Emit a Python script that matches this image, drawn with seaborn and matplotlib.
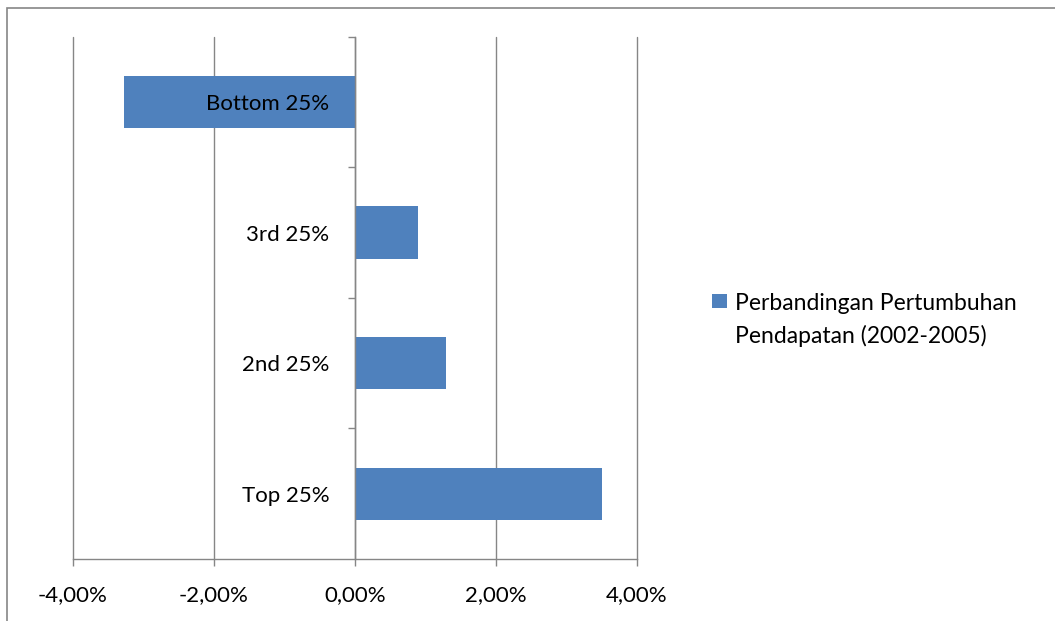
import matplotlib
matplotlib.use('Agg')
import matplotlib.pyplot as plt
import seaborn as sns
import pandas as pd
from matplotlib.ticker import FuncFormatter, FixedLocator
from matplotlib.patches import Rectangle

categories = ["Bottom 25%", "3rd 25%", "2nd 25%", "Top 25%"]
growth = [-3.28, 0.89, 1.29, 3.50]
series_name = "Perbandingan Pertumbuhan\nPendapatan (2002-2005)"
x_ticks = [-4, -2, 0, 2, 4]

sns.set_theme(style='white')
plt.rcParams['font.family'] = ['Lato', 'DejaVu Sans']

GRAY = '#868686'
BLUE = '#4F81BD'
FS = 16

W, H = 1055, 621
fig = plt.figure(figsize=(W / 100, H / 100), dpi=100)
ax = fig.add_axes([73 / W, 1 - 559 / H, (637 - 73) / W, (559 - 36.7) / H])

df = pd.DataFrame({'cat': categories, 'val': growth})
sns.barplot(data=df, x='val', y='cat', orient='h', color=BLUE, saturation=1,
            width=0.4, ax=ax, linewidth=0)
if ax.get_legend() is not None:
    ax.get_legend().remove()

ax.set_xlim(x_ticks[0], x_ticks[-1])
ax.set_ylim(len(categories) - 0.5, -0.5)
ax.xaxis.set_major_locator(FixedLocator(x_ticks))
ax.xaxis.set_major_formatter(FuncFormatter(lambda v, p: f"{v:.2f}%".replace('.', ',')))
ax.set_xlabel('')
ax.set_ylabel('')

ax.grid(axis='x', color=GRAY, lw=1)
ax.grid(axis='y', visible=False)
for gl in ax.get_xgridlines():
    gl.set_clip_on(False)
ax.xaxis.set_zorder(0.5)
ax.yaxis.set_zorder(3)

for s in ['top', 'right']:
    ax.spines[s].set_visible(False)
ax.spines['bottom'].set_color(GRAY)
ax.spines['bottom'].set_linewidth(1)
ax.spines['left'].set_color(GRAY)
ax.spines['left'].set_linewidth(1)
ax.spines['left'].set_position(('data', 0))

ax.tick_params(axis='x', which='major', length=5, width=1, color=GRAY,
               labelsize=FS, labelcolor='black', pad=13.5, direction='out', bottom=True)
ax.set_yticks([i - 0.5 for i in range(len(categories))], minor=True)
ax.tick_params(axis='y', which='major', length=0, labelsize=FS, labelcolor='black', pad=18.5)
ax.tick_params(axis='y', which='minor', length=5, width=1, color=GRAY, direction='out', left=True)

# legend (single series): colour square + two-line label
fig.add_artist(Rectangle((712 / W, 1 - 308 / H), 14.5 / W, 14 / H, facecolor=BLUE,
                         edgecolor='none', transform=fig.transFigure))
fig.text(735 / W, 1 - 293.5 / H, series_name, ha='left', va='top', fontsize=16.5,
         linespacing=1.55, color='black')

fig.add_artist(Rectangle((7 / W, -0.5), 2, 0.5 + (1 - 8 / H), fill=False,
                         edgecolor=GRAY, lw=1.2, transform=fig.transFigure))

fig.savefig('out.png', dpi=100)
